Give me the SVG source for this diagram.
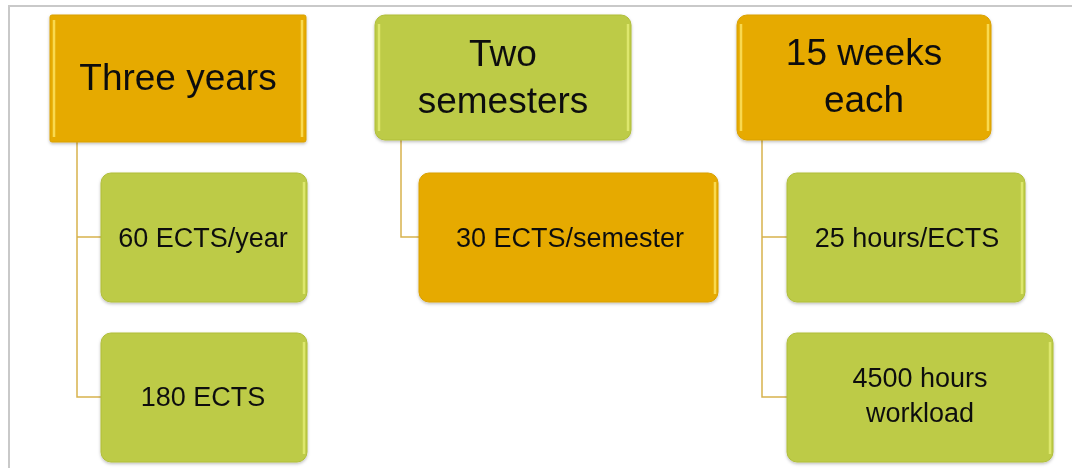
<svg xmlns="http://www.w3.org/2000/svg" width="1072" height="468" viewBox="0 0 1072 468">
<style>
.frame{stroke:#c9c9c9;stroke-width:2;fill:none}
.or{fill:#E6AA00;stroke:#D9A000;stroke-width:1}
.gr{fill:#BDCB47;stroke:#B0BE3A;stroke-width:1}
.hl{fill:none;stroke:#FFE86A;stroke-width:2.5;opacity:0.75}
.hlg{fill:none;stroke:#E8F07A;stroke-width:2.5;opacity:0.75}
.conn{fill:none;stroke:#D8B24C;stroke-width:1.5}
text{font-family:"Liberation Sans",Arial,sans-serif;fill:#111;text-anchor:middle}
.t{font-size:37px}
.c{font-size:27px}
</style>
<defs>
<filter id="sh" x="-5%" y="-5%" width="110%" height="115%">
<feDropShadow dx="0" dy="1.5" stdDeviation="1.5" flood-color="#000" flood-opacity="0.25"/>
</filter>
</defs>
<rect width="1072" height="468" fill="#fff"/>
<path class="frame" d="M9,468 V6 H1072"/>
<g id="connectors">
<path class="conn" d="M77,142 V397 H101 M77,237 H101"/>
<path class="conn" d="M401,140 V237 H419"/>
<path class="conn" d="M762,140 V397 H787 M762,237 H787"/>
</g>
<g id="n-three-years" filter="url(#sh)">
<rect class="or" x="50" y="15" width="256" height="127" rx="2"/>
<path class="hl" d="M54,20 V137 M302,20 V137"/>
<text class="t" x="178" y="90">Three years</text>
</g>
<g id="n-60ects" filter="url(#sh)">
<rect class="gr" x="101" y="173" width="206" height="129" rx="10"/>
<path class="hlg" d="M304,182 V294"/>
<text class="c" x="203" y="247">60 ECTS/year</text>
</g>
<g id="n-180ects" filter="url(#sh)">
<rect class="gr" x="101" y="333" width="206" height="129" rx="10"/>
<path class="hlg" d="M304,342 V454"/>
<text class="c" x="203" y="406">180 ECTS</text>
</g>
<g id="n-two-semesters" filter="url(#sh)">
<rect class="gr" x="375" y="15" width="256" height="125" rx="10"/>
<path class="hlg" d="M379,24 V131 M628,24 V131"/>
<text class="t" x="503" y="66">Two</text>
<text class="t" x="503" y="113">semesters</text>
</g>
<g id="n-30ects" filter="url(#sh)">
<rect class="or" x="419" y="173" width="299" height="129" rx="10"/>
<path class="hl" d="M715,182 V294"/>
<text class="c" x="570" y="247">30 ECTS/semester</text>
</g>
<g id="n-15weeks" filter="url(#sh)">
<rect class="or" x="737" y="15" width="254" height="125" rx="10"/>
<path class="hl" d="M741,24 V131 M988,24 V131"/>
<text class="t" x="864" y="65">15 weeks</text>
<text class="t" x="864" y="112">each</text>
</g>
<g id="n-25hours" filter="url(#sh)">
<rect class="gr" x="787" y="173" width="238" height="129" rx="10"/>
<path class="hlg" d="M1022,182 V294"/>
<text class="c" x="907" y="247">25 hours/ECTS</text>
</g>
<g id="n-4500hours" filter="url(#sh)">
<rect class="gr" x="787" y="333" width="266" height="129" rx="10"/>
<path class="hlg" d="M1050,342 V454"/>
<text class="c" x="920" y="387">4500 hours</text>
<text class="c" x="920" y="422">workload</text>
</g>
</svg>
